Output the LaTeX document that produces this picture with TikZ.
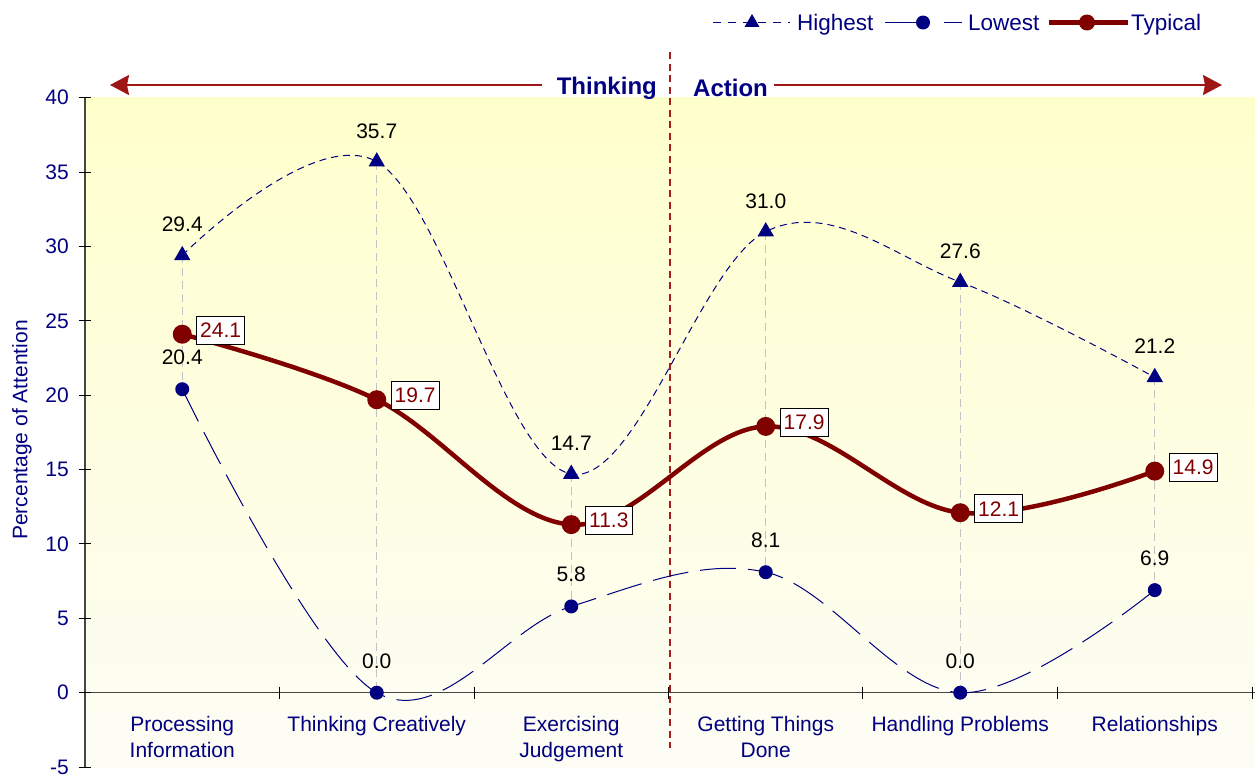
\documentclass[tikz,border=0pt]{standalone}
\usepackage{fontspec}
\setmainfont{Liberation Sans}
\usetikzlibrary{shapes.geometric,arrows.meta}
\definecolor{navy}{RGB}{0,0,128}
\definecolor{dred}{RGB}{128,0,0}
\definecolor{sepred}{RGB}{165,28,28}
\definecolor{bgyellow}{RGB}{255,255,204}
\definecolor{bgbottom}{RGB}{253,253,246}
\definecolor{dropgray}{RGB}{195,195,195}
\definecolor{axisgray}{RGB}{70,70,70}
\begin{document}
\begin{tikzpicture}[x=1pt,y=-1pt,font=\fontsize{21}{26}\selectfont,
  axislab/.style={text=navy,inner sep=0pt},
  leglab/.style={text=navy,inner sep=0pt,anchor=base west,font=\fontsize{22.5}{26}\selectfont},
  catlab/.style={text=navy,inner sep=0pt,align=center,anchor=north},
  datalab/.style={text=black,inner sep=0pt,anchor=base},
  typlab/.style={text=dred,fill=white,draw=black,line width=0.8pt,inner xsep=3.5pt,inner ysep=0pt,minimum height=28pt,anchor=west},
  tri/.style={regular polygon,regular polygon sides=3,fill=navy,inner sep=0pt,minimum size=19pt},
  lowdot/.style={circle,fill=navy,inner sep=0pt,minimum size=14pt},
  typdot/.style={circle,fill=dred,inner sep=0pt,minimum size=19pt},
  highline/.style={navy,line width=1pt,dash pattern=on 7pt off 5pt},
  lowline/.style={navy,line width=1pt,dash pattern=on 36pt off 12pt},
  typline/.style={dred,line width=4.5pt},
  dropline/.style={dropgray,line width=1pt,dash pattern=on 8pt off 5pt},
  axisline/.style={axisgray,line width=1.2pt},
  tickline/.style={black,line width=1pt},
  headlab/.style={text=navy,font=\fontsize{24}{28}\selectfont\bfseries,inner ysep=0pt},
  bigarrow/.style={sepred!80!dred,line width=2pt,-{Stealth[length=19pt,width=20pt,inset=2pt]}}
]
\useasboundingbox (0,0) rectangle (1255,774);
% background
\shade[top color=bgyellow,bottom color=bgbottom] (85,97.7) rectangle (1255,767);

% data coordinates
\coordinate (h1) at (182.25,255.4);
\coordinate (h2) at (376.75,161.7);
\coordinate (h3) at (571.25,474.0);
\coordinate (h4) at (765.75,231.6);
\coordinate (h5) at (960.25,282.1);
\coordinate (h6) at (1154.75,377.3);
\coordinate (l1) at (182.25,389.2);
\coordinate (l2) at (376.75,692.7);
\coordinate (l3) at (571.25,606.4);
\coordinate (l4) at (765.75,572.2);
\coordinate (l5) at (960.25,692.7);
\coordinate (l6) at (1154.75,590.1);
\coordinate (t1) at (182.25,334.2);
\coordinate (t2) at (376.75,399.7);
\coordinate (t3) at (571.25,524.6);
\coordinate (t4) at (765.75,426.4);
\coordinate (t5) at (960.25,512.7);
\coordinate (t6) at (1154.75,471.1);

% drop lines
\foreach \i in {1,...,6} \draw[dropline] (h\i) -- (l\i);

% axes
\coordinate (ytop) at (85,97.7);
\coordinate (ybot) at (85,767);
\coordinate (xl) at (85,692.7);
\coordinate (xr) at (1255,692.7);
\draw[axisline] (ytop) -- (ybot);
\draw[axisline] (xl) -- (xr);
\foreach \v in {-5,0,5,...,40} {
  \pgfmathsetmacro\yy{692.7-14.875*\v}
  \draw[tickline] (79,\yy) -- (91,\yy);
  \node[axislab,anchor=east] at (69,\yy) {\v};
}
\foreach \xx in {279.5,474,668.5,862.5,1057,1252} \draw[tickline] (\xx,686.7) -- (\xx,698.7);

% axis title
\node[axislab,rotate=90] (ytitle) at (22,430) {Percentage of Attention};

% category labels
\node[catlab] (c1) at (182.25,716) {Processing\\Information};
\node[catlab] (c2) at (376.75,716) {Thinking Creatively};
\node[catlab] (c3) at (571.25,716) {Exercising\\Judgement};
\node[catlab] (c4) at (765.75,716) {Getting Things\\Done};
\node[catlab] (c5) at (960.25,716) {Handling Problems};
\node[catlab] (c6) at (1154.75,716) {Relationships};

% separator
\coordinate (septop) at (670,52);
\coordinate (sepbot) at (670,748);
\draw[sepred,line width=2pt,dash pattern=on 7pt off 4.5pt] (septop) -- (sepbot);

% header arrows
\node[headlab,anchor=east,inner xsep=15pt] (think) at (672,88) {Thinking};
\node[headlab,anchor=west,inner xsep=6pt] (act) at (687,88) {Action};
\coordinate (ltip) at (110,85);
\coordinate (rtip) at (1222,85);
\draw[bigarrow] (think.west |- ltip) -- (ltip);
\draw[bigarrow] (act.east |- rtip) -- (rtip);

% series
\draw[highline] plot[smooth,tension=0.6] coordinates {(h1) (h2) (h3) (h4) (h5) (h6)};
\draw[lowline] plot[smooth,tension=0.6] coordinates {(l1) (l2) (l3) (l4) (l5) (l6)};
\draw[typline] plot[smooth,tension=0.6] coordinates {(t1) (t2) (t3) (t4) (t5) (t6)};

\foreach \i in {1,...,6} {
  \node[tri] (H\i) at (h\i) {};
  \node[lowdot] (L\i) at (l\i) {};
  \node[typdot] (T\i) at (t\i) {};
}

% data labels
\node[datalab] at ([yshift=23.5pt]h1) {29.4};
\node[datalab] at ([yshift=23.5pt]h2) {35.7};
\node[datalab] at ([yshift=23.5pt]h3) {14.7};
\node[datalab] at ([yshift=23.5pt]h4) {31.0};
\node[datalab] at ([yshift=23.5pt]h5) {27.6};
\node[datalab] at ([yshift=23.5pt]h6) {21.2};
\node[datalab] at ([yshift=24.5pt]l1) {20.4};
\node[datalab] at ([yshift=24.5pt]l2) {0.0};
\node[datalab] at ([yshift=24.5pt]l3) {5.8};
\node[datalab] at ([yshift=24.5pt]l4) {8.1};
\node[datalab] at ([yshift=24.5pt]l5) {0.0};
\node[datalab] at ([yshift=24.5pt]l6) {6.9};
\node[typlab] at ([xshift=14pt,yshift=4pt]t1) {24.1};
\node[typlab] at ([xshift=14pt,yshift=4pt]t2) {19.7};
\node[typlab] at ([xshift=14pt,yshift=4pt]t3) {11.3};
\node[typlab] at ([xshift=14pt,yshift=4pt]t4) {17.9};
\node[typlab] at ([xshift=14pt,yshift=4pt]t5) {12.1};
\node[typlab] at ([xshift=14pt,yshift=4pt]t6) {14.9};

% legend
\coordinate (lgh1) at (713,22.5);
\coordinate (lgh2) at (790,22.5);
\coordinate (lgl1) at (885,22.5);
\coordinate (lgl2) at (962,22.5);
\coordinate (lgt1) at (1049,22.5);
\coordinate (lgt2) at (1128,22.5);
\draw[navy,line width=1pt,dash pattern=on 8pt off 7pt] (lgh1) -- (lgh2);
\node[tri,minimum size=17pt] (lgH) at (752,22.5) {};
\node[leglab] (lgHt) at (797,30.5) {Highest};
\draw[navy,line width=1pt,dash pattern=on 45pt off 14pt] (lgl1) -- (lgl2);
\node[lowdot] (lgL) at (923,22.5) {};
\node[leglab] (lgLt) at (968,30.5) {Lowest};
\draw[dred,line width=4.5pt] (lgt1) -- (lgt2);
\node[typdot,minimum size=16pt] (lgT) at (1087,22.5) {};
\node[leglab] (lgTt) at (1131,30.5) {Typical};
\end{tikzpicture}
\end{document}
